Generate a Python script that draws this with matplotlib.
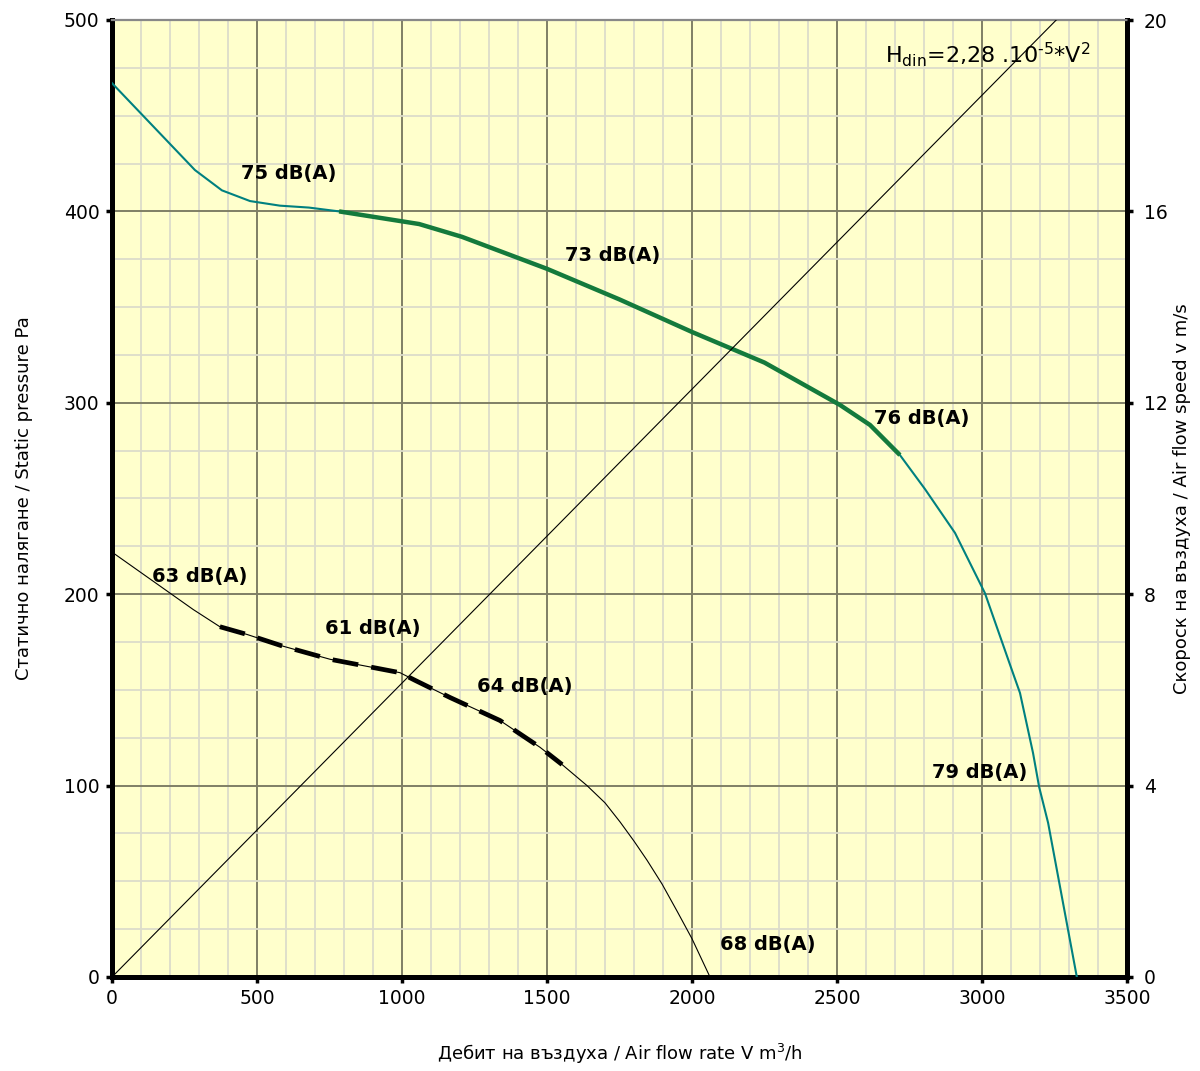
import matplotlib
matplotlib.use("Agg")
import matplotlib.pyplot as plt
from matplotlib.ticker import MultipleLocator

plt.rcParams['font.family'] = ['DejaVu Sans']
plt.rcParams['mathtext.default'] = 'regular'

# Upper fan curve (teal)
upper_flow = [0, 286, 379, 476, 579, 679, 783, 1059, 1207, 1500, 1750, 2000, 2250,
              2510, 2614, 2717, 2803, 2907, 3010, 3103, 3131, 3176, 3197, 3228, 3327]
upper_pres = [467, 421.6, 411, 405.4, 403, 402, 400, 393.4, 386.7, 370, 354, 337, 321,
              298.9, 288.4, 272.7, 255, 232, 200.6, 160.4, 148.4, 117, 99.3, 80.5, 0]
# Working range of upper curve (thick green)
upper_work_flow = [783, 1059, 1207, 1500, 1750, 2000, 2250, 2510, 2614, 2717]
upper_work_pres = [400, 393.4, 386.7, 370, 354, 337, 321, 298.9, 288.4, 272.7]

# Lower fan curve (thin black)
lower_flow = [0, 280, 372, 465, 586, 752, 993, 1045, 1166, 1338, 1476, 1552,
              1638, 1700, 1752, 1800, 1845, 1897, 1950, 2000, 2062]
lower_pres = [222, 192, 183, 179, 173, 166, 159, 155, 146, 134, 120, 111,
              100, 91, 81, 71, 61, 48.5, 34, 20, 0]
# Working range of lower curve (thick dashed)
lower_work_flow = [372, 465, 586, 752, 993, 1045, 1166, 1338, 1476, 1552]
lower_work_pres = [183, 179, 173, 166, 159, 155, 146, 134, 120, 111]

# Air speed line (right axis)
speed_flow = [0, 3256]
speed_v = [0, 20]

# Noise labels
noise_labels = ["75 dB(A)", "73 dB(A)", "76 dB(A)", "79 dB(A)",
                "63 dB(A)", "61 dB(A)", "64 dB(A)", "68 dB(A)"]
noise_x = [610, 1728, 2793, 2993, 303, 900, 1424, 2262]
noise_y = [420, 377, 292, 107, 209, 182, 152, 17]

x_ticks = [0, 500, 1000, 1500, 2000, 2500, 3000, 3500]
y_ticks = [0, 100, 200, 300, 400, 500]
v_ticks = [0, 4, 8, 12, 16, 20]

fig = plt.figure(figsize=(12, 10.71), dpi=100)
ax = fig.add_axes([112/1200, 1-977/1071, (1127-112)/1200, (977-20)/1071])
ax.set_facecolor('#FFFFCC')
ax.set_xlim(0, 3500)
ax.set_ylim(0, 500)
ax.set_xticks(x_ticks)
ax.set_yticks(y_ticks)
ax.xaxis.set_minor_locator(MultipleLocator(100))
ax.yaxis.set_minor_locator(MultipleLocator(25))
ax.grid(which='minor', color='#dcdcca', linewidth=1.3)
ax.grid(which='major', color='#7f7f66', linewidth=1.4)
ax.set_axisbelow(True)
ax.tick_params(which='minor', length=0)
ax.tick_params(which='major', length=4, width=2.5, color='black', labelsize=13.5, pad=5)

for s in ['left', 'bottom', 'right']:
    ax.spines[s].set_linewidth(3.6)
    ax.spines[s].set_color('black')
ax.spines['top'].set_linewidth(1.6)
ax.spines['top'].set_color('#888888')

ax.plot(upper_flow, upper_pres, color='#008080', linewidth=1.5, zorder=3)
ax.plot(upper_work_flow, upper_work_pres, color='#147a3c', linewidth=3.2, zorder=4,
        solid_capstyle='butt')
ax.plot(lower_flow, lower_pres, color='black', linewidth=0.8, zorder=3)
ax.plot(lower_work_flow, lower_work_pres, color='black', linewidth=3.4, zorder=4,
        dashes=(5.5, 2.8))

for t, x, y in zip(noise_labels, noise_x, noise_y):
    ax.text(x, y, t, fontsize=14, fontweight='bold', ha='center', va='center', zorder=5)

ax.text(2665, 482, r"H$_{din}$=2,28 .10$^{\text{-}5}$*V$^{2}$", fontsize=16,
        ha='left', va='center', zorder=5)

ax.set_xlabel("Дебит на въздуха / Air flow rate V m$^{3}$/h", fontsize=13, labelpad=24)
ax.set_ylabel("Статично налягане / Static pressure Pa", fontsize=13, labelpad=22)

ax2 = ax.twinx()
ax2.set_ylim(0, 20)
ax2.set_yticks(v_ticks)
ax2.tick_params(which='major', length=4, width=2.5, color='black', labelsize=13.5, pad=8)
for s in ax2.spines.values():
    s.set_visible(False)
ax2.plot(speed_flow, speed_v, color='black', linewidth=0.8, zorder=3)
ax2.set_xlim(0, 3500)
ax2.set_ylabel("Скороск на въздуха / Air flow speed v m/s", fontsize=13, labelpad=4)

fig.savefig("out.png", dpi=100)
